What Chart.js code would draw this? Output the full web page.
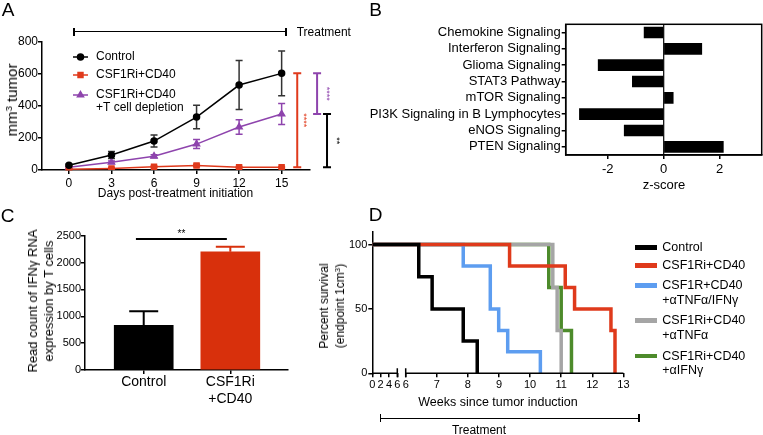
<!DOCTYPE html>
<html>
<head>
<meta charset="utf-8">
<script src="https://cdn.jsdelivr.net/npm/chart.js@4.4.1/dist/chart.umd.min.js"></script>
<style>
  html, body { margin: 0; padding: 0; background: #fff; }
  body { position: relative; width: 763px; height: 435px; overflow: hidden;
         font-family: "Liberation Sans", Arial, Helvetica, sans-serif; color: #000; }
  canvas { position: absolute; }
  .c, .r, .l, .k { position: absolute; white-space: nowrap; line-height: 1.2; }
  .c { transform: translate(-50%, -50%); text-align: center; }
  .r { transform: translate(-50%, -50%) rotate(-90deg); text-align: center; }
  .l { transform: translate(0, -50%); }
  sup { font-size: 0.65em; line-height: 0; vertical-align: 0.55em; }
  .bar { position: absolute; background: #000; }
</style>
</head>
<body>
<canvas id="chartA" width="380" height="200" style="left:0px;top:0px"></canvas>
<canvas id="chartB" width="403" height="200" style="left:360px;top:0px"></canvas>
<canvas id="chartC" width="380" height="235" style="left:0px;top:200px"></canvas>
<canvas id="chartD" width="443" height="235" style="left:320px;top:200px"></canvas>
<script>
// panel A - tumour volume
const daysA = [0, 3, 6, 9, 12, 15];
const controlA = [30, 94, 181, 331, 531, 604];
const controlErrA = [6, 22, 38, 73, 153, 140];
const csfA = [5, 10, 20, 28, 17, 17];
const csfErrA = [3, 5, 5, 8, 5, 5];
const depletionA = [17, 48, 86, 162, 269, 350];
const depletionErrA = [4, 8, 10, 28, 45, 65];
const seriesA = ['Control', 'CSF1Ri+CD40', 'CSF1Ri+CD40\n+T cell depletion'];
const yTicksA = [0, 200, 400, 600, 800];
const starsA = ['****', '****', '**'];

// panel B - pathway z-scores
const pathwaysB = ['Chemokine Signaling', 'Interferon Signaling', 'Glioma Signaling', 'STAT3 Pathway',
  'mTOR Signaling', 'PI3K Signaling in B Lymphocytes', 'eNOS Signaling', 'PTEN Signaling'];
const zScoresB = [-0.70, 1.36, -2.34, -1.12, 0.34, -3.01, -1.41, 2.13];
const xTicksB = [-2, 0, 2];

// panel C - IFNg read counts
const groupsC = [['Control'], ['CSF1Ri', '+CD40']];
const readsC = [830, 2199];
const readsErrC = [262, 93];
const yTicksC = [0, 500, 1000, 1500, 2000, 2500];
const starsC = '**';

// panel D - survival
const seriesD = ['Control', 'CSF1Ri+CD40', 'CSF1R+CD40\n+αTNFα/IFNγ', 'CSF1Ri+CD40\n+αTNFα', 'CSF1Ri+CD40\n+αIFNγ'];
const controlWeeksD = [0, 6.42, 6.85, 7.85, 8.3];
const controlSurvD = [100, 75, 50, 25, 0];
const csfWeeksD = [0, 9.34, 11.13, 11.43, 12.6, 12.73];
const csfSurvD = [100, 83.3, 66.7, 50, 33.3, 0];
const tnfIfnWeeksD = [0, 7.85, 8.72, 8.99, 9.28, 10.33];
const tnfIfnSurvD = [100, 83.3, 50, 33.3, 16.7, 0];
const tnfWeeksD = [0, 10.73, 10.87, 11.0];
const tnfSurvD = [100, 66.7, 33.3, 0];
const ifnWeeksD = [0, 10.6, 11.0, 11.33];
const ifnSurvD = [100, 66.7, 33.3, 0];
const earlyTicksD = [0, 2, 4, 6];
const lateTicksD = [6, 7, 8, 9, 10, 11, 12, 13];
const yTicksD = [0, 50, 100];

const FONT = '"Liberation Sans", Arial, Helvetica, sans-serif';
Chart.defaults.font.family = FONT;
Chart.defaults.color = '#000';
Chart.defaults.animation = false;
Chart.defaults.responsive = false;
Chart.defaults.plugins.legend.display = false;
Chart.defaults.plugins.tooltip.enabled = false;

const RED = '#e03a1c', PURPLE = '#8e44ad', CRED = '#d8300c';
const colorsD = ['#000000', '#df3a1b', '#5d9df0', '#a5a5a5', '#4d8b2b'];

function axis(extra) {
  return Object.assign({
    grid: { drawOnChartArea: false, tickLength: 4, color: '#000', lineWidth: 1.5, offset: false },
    border: { color: '#000', width: 1.5 },
  }, extra);
}
const fixTicks = vals => s => { s.ticks = vals.map(v => ({ value: v })); };
const fixWidth = w => s => { s.width = w; };
const fixHeight = h => s => { s.height = h; };
const plain = v => String(v);
const pts = (xs, ys) => xs.map((x, i) => ({ x: x, y: ys[i] }));

// ---------- A ----------
const errorBarsA = {
  id: 'errorBarsA',
  beforeDatasetsDraw(chart) {
    const ctx = chart.ctx, y = chart.scales.y;
    ctx.save();
    ctx.lineWidth = 1.5;
    chart.data.datasets.forEach((ds, i) => {
      ctx.strokeStyle = ds.errColor || ds.borderColor;
      chart.getDatasetMeta(i).data.forEach((p, j) => {
        const v = ds.data[j].y, e = ds.errors[j];
        const top = y.getPixelForValue(v + e), bot = y.getPixelForValue(v - e);
        ctx.beginPath();
        ctx.moveTo(p.x, top); ctx.lineTo(p.x, bot);
        ctx.moveTo(p.x - 3.5, top); ctx.lineTo(p.x + 3.5, top);
        ctx.moveTo(p.x - 3.5, bot); ctx.lineTo(p.x + 3.5, bot);
        ctx.stroke();
      });
    });
    ctx.restore();
  }
};

const annotA = {
  id: 'annotA',
  afterDraw(chart) {
    const ctx = chart.ctx, x = chart.scales.x, y = chart.scales.y;
    ctx.save();
    const rowY = [57, 75, 95];
    chart.data.datasets.forEach((ds, i) => {
      const yy = rowY[i];
      ctx.strokeStyle = ds.borderColor; ctx.fillStyle = ds.borderColor; ctx.lineWidth = 1.5;
      ctx.beginPath(); ctx.moveTo(73, yy); ctx.lineTo(88, yy); ctx.stroke();
      Chart.helpers.drawPoint(ctx, { pointStyle: ds.pointStyle, radius: ds.pointRadius, rotation: 0, borderWidth: 1 }, 80.5, yy);
      ctx.fillStyle = '#000'; ctx.font = '12px ' + FONT; ctx.textBaseline = 'middle'; ctx.textAlign = 'left';
      seriesA[i].split('\n').forEach((t, k) => ctx.fillText(t, 96, yy + k * 13));
    });
    // significance brackets at the last day
    const last = daysA.length - 1;
    const brackets = [
      [controlA[last], csfA[last], 16.1, RED, 6],
      [controlA[last], depletionA[last], 17.5, PURPLE, 9.5],
      [depletionA[last], csfA[last], 18.2, '#000', 9.5],
    ];
    brackets.forEach((b, i) => {
      const bx = x.getPixelForValue(b[2]), y1 = y.getPixelForValue(b[0]), y2 = y.getPixelForValue(b[1]);
      ctx.strokeStyle = b[3]; ctx.lineWidth = 2;
      ctx.beginPath();
      ctx.moveTo(bx, y1); ctx.lineTo(bx, y2);
      ctx.moveTo(bx - 4, y1); ctx.lineTo(bx + 4, y1);
      ctx.moveTo(bx - 4, y2); ctx.lineTo(bx + 4, y2);
      ctx.stroke();
      ctx.save();
      ctx.translate(bx + b[4], (y1 + y2) / 2);
      ctx.rotate(Math.PI / 2);
      ctx.fillStyle = b[3]; ctx.font = '9px ' + FONT; ctx.textAlign = 'center'; ctx.textBaseline = 'middle';
      ctx.fillText(starsA[i], 0, 0);
      ctx.restore();
    });
    ctx.restore();
  }
};

new Chart(document.getElementById('chartA'), {
  type: 'line',
  data: {
    datasets: [
      { data: pts(daysA, controlA), errors: controlErrA, errColor: '#333', borderColor: '#000', backgroundColor: '#000',
        pointStyle: 'circle', pointRadius: 3, borderWidth: 1.5 },
      { data: pts(daysA, csfA), errors: csfErrA, borderColor: RED, backgroundColor: RED,
        pointStyle: 'rect', pointRadius: 3.5, borderWidth: 1.5 },
      { data: pts(daysA, depletionA), errors: depletionErrA, borderColor: PURPLE, backgroundColor: PURPLE,
        pointStyle: 'triangle', pointRadius: 3.5, borderWidth: 1.5 },
    ]
  },
  options: {
    layout: { padding: { left: 6, right: 70, top: 42, bottom: 0 } },
    scales: {
      x: axis({ type: 'linear', min: -1.9, max: 17, afterBuildTicks: fixTicks(daysA), afterFit: fixHeight(30),
        ticks: { font: { size: 12 }, padding: 2, maxRotation: 0, callback: plain } }),
      y: axis({ min: 0, max: 800, afterBuildTicks: fixTicks(yTicksA), afterFit: fixWidth(36),
        ticks: { font: { size: 12 }, padding: 0, callback: plain } }),
    },
  },
  plugins: [errorBarsA, annotA],
});

// ---------- B ----------
const frameB = {
  id: 'frameB',
  afterDraw(chart) {
    const ctx = chart.ctx, a = chart.chartArea, x0 = chart.scales.x.getPixelForValue(0);
    ctx.save();
    ctx.strokeStyle = '#000'; ctx.lineWidth = 1.5;
    ctx.strokeRect(a.left, a.top, a.right - a.left, a.bottom - a.top);
    ctx.lineWidth = 1.2;
    ctx.beginPath(); ctx.moveTo(x0, a.top); ctx.lineTo(x0, a.bottom); ctx.stroke();
    ctx.restore();
  }
};

new Chart(document.getElementById('chartB'), {
  type: 'bar',
  data: { labels: pathwaysB, datasets: [{ data: zScoresB, backgroundColor: '#000', barThickness: 11 }] },
  options: {
    indexAxis: 'y',
    layout: { padding: { left: 0, right: 1.3, top: 24.3, bottom: 0 } },
    scales: {
      x: axis({ min: -3.5, max: 3.5, afterBuildTicks: fixTicks(xTicksB), afterFit: fixHeight(45),
        ticks: { font: { size: 13 }, padding: 3, callback: plain } }),
      y: axis({ afterFit: fixWidth(205.7), ticks: { font: { size: 13 }, padding: 1, autoSkip: false } }),
    },
  },
  plugins: [frameB],
});

// ---------- C ----------
const annotC = {
  id: 'annotC',
  afterDatasetsDraw(chart) {
    const ctx = chart.ctx, x = chart.scales.x, y = chart.scales.y;
    const ds = chart.data.datasets[0];
    ctx.save();
    ctx.lineWidth = 2;
    chart.getDatasetMeta(0).data.forEach((bar, i) => {
      const base = y.getPixelForValue(readsC[i]), top = y.getPixelForValue(readsC[i] + readsErrC[i]);
      ctx.strokeStyle = ds.backgroundColor[i];
      ctx.beginPath();
      ctx.moveTo(bar.x, base); ctx.lineTo(bar.x, top);
      ctx.moveTo(bar.x - 14.5, top); ctx.lineTo(bar.x + 14.5, top);
      ctx.stroke();
    });
    const sy = y.getPixelForValue(2440), sx1 = x.getPixelForValue(-0.09), sx2 = x.getPixelForValue(0.96);
    ctx.strokeStyle = '#000';
    ctx.beginPath(); ctx.moveTo(sx1, sy); ctx.lineTo(sx2, sy); ctx.stroke();
    ctx.fillStyle = '#000'; ctx.font = '10px ' + FONT; ctx.textAlign = 'center'; ctx.textBaseline = 'middle';
    ctx.fillText(starsC, (sx1 + sx2) / 2, sy - 5);
    ctx.restore();
  }
};

new Chart(document.getElementById('chartC'), {
  type: 'bar',
  data: { datasets: [{ data: readsC.map((v, i) => ({ x: i, y: v })), backgroundColor: ['#000000', CRED], barThickness: 59 }] },
  options: {
    layout: { padding: { left: 0, right: 92, top: 35.7, bottom: 0 } },
    scales: {
      x: axis({ type: 'linear', offset: false, min: -0.678, max: 1.666, afterBuildTicks: fixTicks(groupsC.map((g, i) => i)), afterFit: fixHeight(65),
        ticks: { font: { size: 14, lineHeight: 1.2 }, padding: 0, maxRotation: 0, autoSkip: false, callback: (v, i) => groupsC[i] } }),
      y: axis({ min: 0, max: 2500, afterBuildTicks: fixTicks(yTicksC), afterFit: fixWidth(85),
        ticks: { font: { size: 11 }, padding: 0, callback: plain } }),
    },
  },
  plugins: [annotC],
});

// ---------- D ----------
// broken x axis: 0-6 weeks squeezed, then one unit per week
const EARLY_SCALE = 0.134, LATE_START = 1.074;
const earlyAxis = w => w * EARLY_SCALE;
const lateAxis = w => LATE_START + (w - 6);
const weekToAxis = w => (w < 6 ? earlyAxis(w) : lateAxis(w));
const tickValsD = earlyTicksD.map(earlyAxis).concat(lateTicksD.map(lateAxis));
const tickLabelsD = earlyTicksD.concat(lateTicksD);
const curvesD = [
  [controlWeeksD, controlSurvD], [csfWeeksD, csfSurvD], [tnfIfnWeeksD, tnfIfnSurvD],
  [tnfWeeksD, tnfSurvD], [ifnWeeksD, ifnSurvD],
];

const brokenAxisD = {
  id: 'brokenAxisD',
  afterDraw(chart) {
    const ctx = chart.ctx, x = chart.scales.x, yy = chart.chartArea.bottom;
    const segs = [
      [earlyAxis(earlyTicksD[0]), earlyAxis(earlyTicksD[earlyTicksD.length - 1]), 1],
      [lateAxis(lateTicksD[0]), lateAxis(lateTicksD[lateTicksD.length - 1]), 0],
    ];
    ctx.save();
    ctx.strokeStyle = '#000'; ctx.lineWidth = 1.5;
    segs.forEach(s => {
      const p0 = x.getPixelForValue(s[0]), p1 = x.getPixelForValue(s[1]);
      const pc = s[2] ? p1 : p0;
      ctx.beginPath();
      ctx.moveTo(p0, yy); ctx.lineTo(p1, yy);
      ctx.moveTo(pc, yy - 5); ctx.lineTo(pc, yy + 4);
      ctx.stroke();
    });
    ctx.restore();
  }
};

new Chart(document.getElementById('chartD'), {
  type: 'line',
  data: {
    datasets: curvesD.map((c, i) => ({
      data: c[0].map((w, j) => ({ x: weekToAxis(w), y: c[1][j] })),
      borderColor: colorsD[i], borderWidth: 3.5, stepped: true, pointRadius: 0, fill: false,
    }))
  },
  options: {
    layout: { padding: { left: 0, right: 139.6, top: 31.7, bottom: 0 } },
    scales: {
      x: axis({ type: 'linear', min: 0, max: lateAxis(lateTicksD[lateTicksD.length - 1]), border: { display: false },
        afterBuildTicks: fixTicks(tickValsD), afterFit: fixHeight(61.7),
        ticks: { font: { size: 11 }, padding: 1, autoSkip: false, maxRotation: 0, callback: (v, i) => String(tickLabelsD[i]) } }),
      y: axis({ min: 0, max: 110, afterBuildTicks: fixTicks(yTicksD), afterFit: fixWidth(52.3),
        ticks: { font: { size: 11 }, padding: 1, callback: plain } }),
    },
  },
  plugins: [brokenAxisD],
});

// ---------- text and annotations ----------
function note(html, x, y, size, cls, style) {
  const d = document.createElement('div');
  d.className = cls;
  d.innerHTML = html;
  d.style.left = x + 'px';
  d.style.top = y + 'px';
  d.style.fontSize = size + 'px';
  if (style) Object.assign(d.style, style);
  document.body.appendChild(d);
}
function rule(x1, x2, y) {
  const add = (l, t, w, h) => {
    const d = document.createElement('div');
    d.className = 'bar';
    Object.assign(d.style, { left: l + 'px', top: t + 'px', width: w + 'px', height: h + 'px' });
    document.body.appendChild(d);
  };
  add(x1, y - 0.75, x2 - x1, 1.5);
  add(x1 - 0.75, y - 4, 1.5, 8);
  add(x2 - 0.75, y - 4, 1.5, 8);
}

note('A', 8, 10, 19, 'c');
note('B', 375.5, 10, 19, 'c');
note('C', 7.5, 215.5, 19, 'c');
note('D', 375.5, 215, 19, 'c');

rule(74, 286, 31.7);
note('Treatment', 296.7, 31.7, 12, 'l');
note('mm<sup>3</sup> tumor', 12, 100, 15, 'r');
note('Days post-treatment initiation', 175.5, 193, 12, 'c');

note('z-score', 664, 185, 13, 'c');

note('Read count of IFNγ RNA<br>expression by T cells', 41, 301, 13, 'r', { lineHeight: '16px' });

note('Percent survival<br>(endpoint 1cm<sup>3</sup>)', 332, 306, 12, 'r', { lineHeight: '16px' });
note('Weeks since tumor induction', 498, 401.7, 12.5, 'c');
rule(380.7, 639, 418.3);
note('Treatment', 479, 430, 12, 'c');

const legendRowsD = [247.7, 265.7, 285.7, 320.7, 356];
seriesD.forEach((name, i) => {
  const d = document.createElement('div');
  d.className = 'bar';
  Object.assign(d.style, { left: '635px', top: (legendRowsD[i] - 2.25) + 'px', width: '22px', height: '4.5px', background: colorsD[i] });
  document.body.appendChild(d);
  note(name.replace('\n', '<br>'), 662.3, legendRowsD[i] - 7.4, 12.5, 'k', { lineHeight: '14.8px' });
});
</script>
</body>
</html>
